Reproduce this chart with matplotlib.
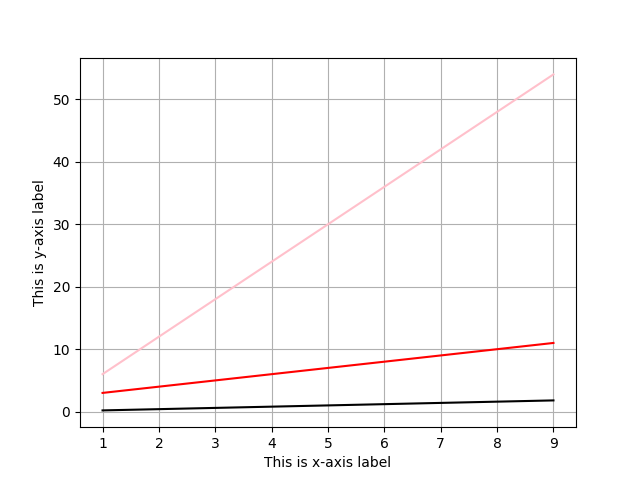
import matplotlib
matplotlib.use("Agg")
import matplotlib.pyplot as plt

# values
x_values = [1, 2, 3, 4, 5, 6, 7, 8, 9]
black_values = [0.2, 0.4, 0.6, 0.8, 1.0, 1.2, 1.4, 1.6, 1.8]
red_values = [3, 4, 5, 6, 7, 8, 9, 10, 11]
pink_values = [6, 12, 18, 24, 30, 36, 42, 48, 54]

fig, ax = plt.subplots(figsize=(6.4, 4.8), dpi=100)
ax.plot(x_values, black_values, color="black")
ax.plot(x_values, red_values, color="red")
ax.plot(x_values, pink_values, color="pink")

ax.set_xlabel("This is x-axis label")
ax.set_ylabel("This is y-axis label")
ax.grid(True)

fig.savefig("out.png")
